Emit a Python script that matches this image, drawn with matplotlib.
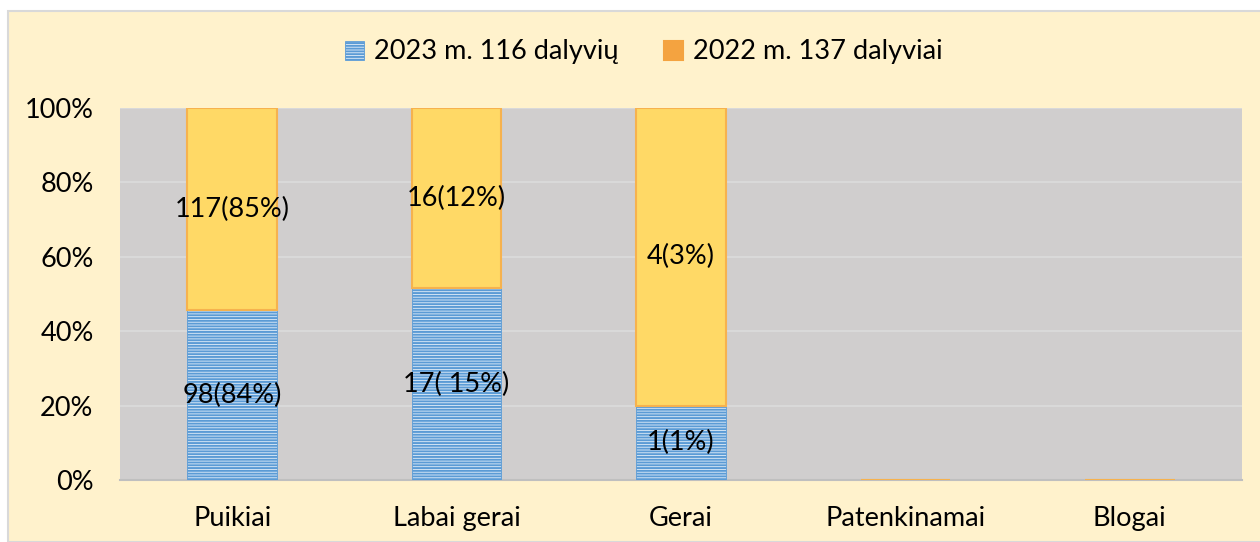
import matplotlib.pyplot as plt
import numpy as np
from matplotlib.patches import Rectangle

plt.rcParams['font.family'] = ['Lato', 'DejaVu Sans']
plt.rcParams['hatch.color'] = '#5B9BD5'
plt.rcParams['hatch.linewidth'] = 1.4

categories = ["Puikiai", "Labai gerai", "Gerai", "Patenkinamai", "Blogai"]
v2023 = [98, 17, 1, 0, 0]
v2022 = [117, 16, 4, 0, 0]
lab2023 = ["98(84%)", "17( 15%)", "1(1%)", "", ""]
lab2022 = ["117(85%)", "16(12%)", "4(3%)", "", ""]
series_names = ["2023 m. 116 dalyvių", "2022 m. 137 dalyviai"]

a = np.array(v2023, dtype=float)
b = np.array(v2022, dtype=float)
tot = a + b
tot[tot == 0] = 1
p23 = a / tot * 100
p22 = b / tot * 100

fs = 19.5

fig = plt.figure(figsize=(12.6, 5.42), dpi=100)
fig.patch.set_facecolor('white')
# cream frame
fig.patches.append(Rectangle((8/1260, 0), 1.0, (542-11)/542, transform=fig.transFigure,
                             facecolor='#FFF2CC', edgecolor='#D9D9D9', linewidth=1.5, zorder=-5))

ax = fig.add_axes([120/1260, (542-480)/542, (1242-120)/1260, (480-108)/542])
ax.set_facecolor('#D0CECE')

x = np.arange(len(categories))
w = 0.4
b1 = ax.bar(x, p23, w, color='#E3EEF9', edgecolor='#5B9BD5', linewidth=0.6,
            hatch='------', label=series_names[0], zorder=3)
b2 = ax.bar(x, p22, w, bottom=p23, color='#FFD966', edgecolor='#F6B24E', linewidth=1.5,
            label=series_names[1], zorder=3)

for i in range(len(categories)):
    if lab2023[i]:
        ax.text(x[i], p23[i] / 2, lab2023[i], ha='center', va='center', fontsize=fs, zorder=5)
    if lab2022[i]:
        ax.text(x[i], p23[i] + p22[i] / 2, lab2022[i], ha='center', va='center', fontsize=fs, zorder=5)

ax.set_xlim(-0.5, len(categories) - 0.5)
ax.set_ylim(0, 100)
ax.set_yticks(range(0, 101, 20))
ax.set_yticklabels([f"{t}%" for t in range(0, 101, 20)], fontsize=fs)
ax.set_xticks(x)
ax.set_xticklabels(categories, fontsize=fs)
ax.tick_params(length=0)
ax.tick_params(axis='y', pad=19)
ax.tick_params(axis='x', pad=19)
ax.yaxis.grid(True, color='#DCDCDC', linewidth=1.2, zorder=1)
ax.set_axisbelow(True)
for s in ['top', 'right', 'left']:
    ax.spines[s].set_visible(False)
ax.spines['bottom'].set_color('#BFBFBF')
ax.spines['bottom'].set_linewidth(1.5)

leg = fig.legend(handles=[b1, b2], loc='center', bbox_to_anchor=(0.511, (542-52)/542),
                 ncol=2, frameon=False, fontsize=fs, handlelength=0.7, handleheight=0.7,
                 columnspacing=1.7, handletextpad=0.35)
leg.legend_handles[1].set_facecolor('#F4A340')
leg.legend_handles[1].set_edgecolor('#F4A340')

fig.savefig('out.png', dpi=100)
